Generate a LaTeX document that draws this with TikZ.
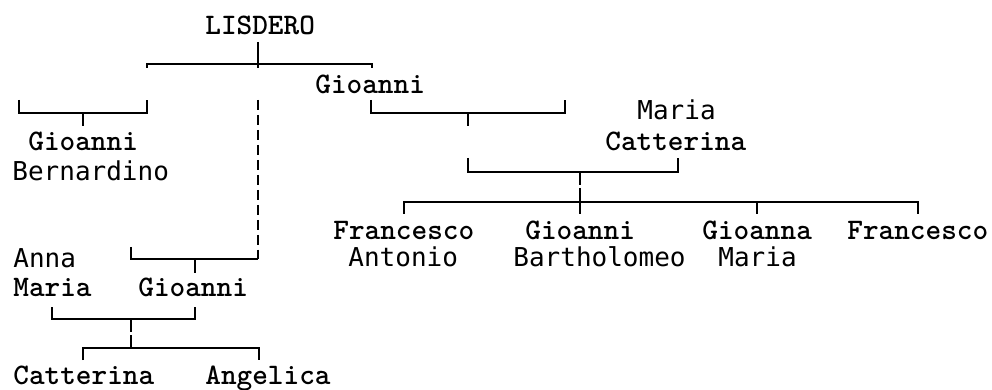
\documentclass[tikz,border=0pt]{standalone}
\usepackage{fontspec}
\newfontfamily\serifmono{lmmonolt10-bold.otf}
\newfontfamily\sansmono{DejaVu Sans Mono}

\begin{document}
\begin{tikzpicture}[
  x=0.5pt, y=-0.5pt,
  boldname/.style={anchor=base west, inner sep=0pt, font=\serifmono\fontsize{14.9}{15}\selectfont},
  plainname/.style={anchor=base west, inner sep=0pt, font=\sansmono\fontsize{13}{13}\selectfont},
  link/.style={line width=1pt},
  dashlink/.style={line width=1pt, dash pattern=on 5pt off 2.5pt}
]
\useasboundingbox (0,0) rectangle (992,390);

% Head of the family
\node (lisdero) at (205,35) [boldname] {LISDERO};
\node (gioanni-r) at (315,94) [boldname] {Gioanni};

% First son and his line
\node (gioanni-b) at (28,151) [boldname] {Gioanni};
\node (bernardino) at (12,181) [plainname] {Bernardino};

% Wife of the right Gioanni
\node (maria-c) at (637,120) [plainname] {Maria};
\node (catterina-c) at (605,151) [boldname] {Catterina};

% Their children
\node (francesco-a) at (333,240) [boldname] {Francesco};
\node (antonio) at (348,267) [plainname] {Antonio};
\node (gioanni-bb) at (525,240) [boldname] {Gioanni};
\node (bartholomeo) at (513,267) [plainname] {Bartholomeo};
\node (gioanna) at (702,240) [boldname] {Gioanna};
\node (maria-g) at (718,267) [plainname] {Maria};
\node (francesco) at (847,240) [boldname] {Francesco};

% Lower left line
\node (anna) at (13,268) [plainname] {Anna};
\node (maria-a) at (13,297) [boldname] {Maria};
\node (gioanni-l) at (138,297) [boldname] {Gioanni};
\node (catterina) at (13,385) [boldname] {Catterina};
\node (angelica) at (205,385) [boldname] {Angelica};

% Bracket points
\coordinate (top-l) at (147,64);
\coordinate (top-m) at (258,64);
\coordinate (top-r) at (372,64);
\coordinate (gb-l) at (19,113);
\coordinate (gb-m) at (83,113);
\coordinate (gb-r) at (147,113);
\coordinate (gm-l) at (371,113);
\coordinate (gm-m) at (468,113);
\coordinate (gm-r) at (565,113);
\coordinate (mc-l) at (468,172);
\coordinate (mc-m) at (580,172);
\coordinate (mc-r) at (678,172);
\coordinate (kid-l) at (404,202);
\coordinate (kid-m) at (580,202);
\coordinate (kid-g) at (757,202);
\coordinate (kid-r) at (918,202);
\coordinate (dash-t) at (258,100);
\coordinate (low-l) at (131,259);
\coordinate (low-m) at (195,259);
\coordinate (low-r) at (258,259);
\coordinate (par-l) at (52,319);
\coordinate (par-m) at (131,319);
\coordinate (par-r) at (195,319);
\coordinate (bot-l) at (83,348);
\coordinate (bot-m) at (131,348);
\coordinate (bot-r) at (259,348);

% LISDERO to his sons
\draw[link] ([yshift=11pt]top-m) -- ([yshift=-2pt]top-m);
\draw[link] ([yshift=-2pt]top-l) -- (top-l) -- (top-r) -- ([yshift=-2pt]top-r);
\draw[dashlink] (dash-t) -- ([yshift=4.5pt]low-r);
\draw[link] ([yshift=4.5pt]low-r) -- (low-r);

% Gioanni Bernardino
\draw[link] ([yshift=6.5pt]gb-l) -- (gb-l) -- (gb-r) -- ([yshift=6.5pt]gb-r);
\draw[link] (gb-m) -- ([yshift=-6.5pt]gb-m);

% Gioanni and Maria Catterina
\draw[link] ([yshift=6.5pt]gm-l) -- (gm-l) -- (gm-r) -- ([yshift=6.5pt]gm-r);
\draw[link] (gm-m) -- ([yshift=-6.5pt]gm-m);
\draw[link] ([yshift=7pt]mc-l) -- (mc-l) -- (mc-r) -- ([yshift=7pt]mc-r);
\draw[link] (mc-m) -- ([yshift=-6.5pt]mc-m);
\draw[link] ([yshift=-8pt]mc-m) -- ([yshift=-6pt]kid-m);
\draw[link] ([yshift=-6pt]kid-l) -- (kid-l) -- (kid-r) -- ([yshift=-6pt]kid-r);
\draw[link] (kid-g) -- ([yshift=-6pt]kid-g);

% Gioanni and Anna Maria
\draw[link] ([yshift=6pt]low-l) -- (low-l) -- (low-r);
\draw[link] (low-m) -- ([yshift=-7pt]low-m);
\draw[link] ([yshift=6pt]par-l) -- (par-l) -- (par-r) -- ([yshift=6pt]par-r);
\draw[link] (par-m) -- ([yshift=-6.5pt]par-m);
\draw[link] ([yshift=-8pt]par-m) -- (bot-m);
\draw[link] ([yshift=-6pt]bot-l) -- (bot-l) -- (bot-r) -- ([yshift=-6pt]bot-r);

\end{tikzpicture}
\end{document}
